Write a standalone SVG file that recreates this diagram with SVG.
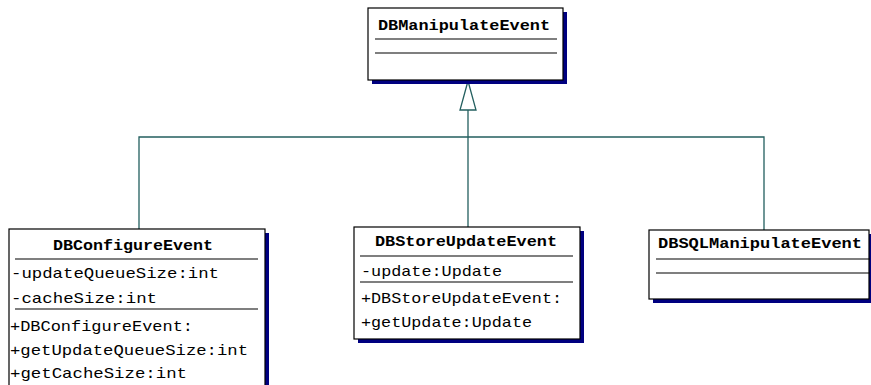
<svg xmlns="http://www.w3.org/2000/svg" width="871" height="385" viewBox="0 0 871 385">
  <style>
    .shadow { fill: #000080; }
    .box { fill: #ffffff; stroke: #000000; stroke-width: 1.2; }
    .sep { stroke: #000000; stroke-width: 1.2; }
    .title { font-family: "Liberation Mono", "DejaVu Sans Mono", monospace; font-weight: bold; font-size: 15px; fill: #000000; }
    .member { font-family: "Liberation Mono", "DejaVu Sans Mono", monospace; font-size: 15px; fill: #000000; }
    .link { fill: none; stroke: #235f5f; stroke-width: 1.3; }
    .head { fill: #ffffff; stroke: #235f5f; stroke-width: 1.3; }
  </style>

  <!-- inheritance connectors -->
  <g id="connectors">
    <polyline class="link" points="139,229 139,137 764,137 764,230"/>
    <line class="link" x1="468" y1="110" x2="468" y2="227"/>
    <polygon class="head" points="468,81 460,110 476,110"/>
  </g>

  <g id="DBManipulateEvent">
    <rect class="shadow" x="372" y="12" width="195" height="72"/>
    <rect class="box" x="368" y="8" width="195" height="72"/>
    <text class="title" x="378" y="30" textLength="172" lengthAdjust="spacingAndGlyphs">DBManipulateEvent</text>
    <line class="sep" x1="375" y1="39" x2="557" y2="39"/>
    <line class="sep" x1="375" y1="53" x2="557" y2="53"/>
  </g>

  <g id="DBConfigureEvent">
    <rect class="shadow" x="13" y="233" width="256" height="200"/>
    <rect class="box" x="9" y="229" width="256" height="200"/>
    <text class="title" x="53" y="250" textLength="160" lengthAdjust="spacingAndGlyphs">DBConfigureEvent</text>
    <line class="sep" x1="15" y1="259" x2="258" y2="259"/>
    <text class="member" x="11" y="278" textLength="208" lengthAdjust="spacingAndGlyphs">-updateQueueSize:int</text>
    <text class="member" x="11" y="303" textLength="146" lengthAdjust="spacingAndGlyphs">-cacheSize:int</text>
    <line class="sep" x1="15" y1="309" x2="258" y2="309"/>
    <text class="member" x="10" y="331" textLength="183" lengthAdjust="spacingAndGlyphs">+DBConfigureEvent:</text>
    <text class="member" x="10" y="355" textLength="238" lengthAdjust="spacingAndGlyphs">+getUpdateQueueSize:int</text>
    <text class="member" x="10" y="378" textLength="177" lengthAdjust="spacingAndGlyphs">+getCacheSize:int</text>
  </g>

  <g id="DBStoreUpdateEvent">
    <rect class="shadow" x="358" y="231" width="226" height="112"/>
    <rect class="box" x="354" y="227" width="226" height="112"/>
    <text class="title" x="375" y="246" textLength="182" lengthAdjust="spacingAndGlyphs">DBStoreUpdateEvent</text>
    <line class="sep" x1="360" y1="256" x2="573" y2="256"/>
    <text class="member" x="361" y="276" textLength="141" lengthAdjust="spacingAndGlyphs">-update:Update</text>
    <line class="sep" x1="360" y1="282" x2="573" y2="282"/>
    <text class="member" x="361" y="303" textLength="201" lengthAdjust="spacingAndGlyphs">+DBStoreUpdateEvent:</text>
    <text class="member" x="361" y="327" textLength="171" lengthAdjust="spacingAndGlyphs">+getUpdate:Update</text>
  </g>

  <g id="DBSQLManipulateEvent">
    <rect class="shadow" x="653" y="234" width="220" height="69"/>
    <rect class="box" x="649" y="230" width="220" height="69"/>
    <text class="title" x="658" y="248" textLength="204" lengthAdjust="spacingAndGlyphs">DBSQLManipulateEvent</text>
    <line class="sep" x1="656" y1="259" x2="870" y2="259"/>
    <line class="sep" x1="656" y1="273" x2="870" y2="273"/>
  </g>
</svg>
